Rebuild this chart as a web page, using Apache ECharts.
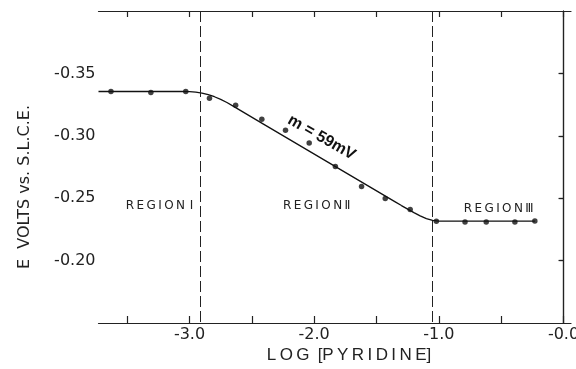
<!DOCTYPE html>
<html>
<head>
<meta charset="utf-8">
<script src="https://cdn.jsdelivr.net/npm/echarts@6/dist/echarts.min.js"></script>
<style>
  html, body { margin: 0; padding: 0; background: #fff; }
  #chart { width: 576px; height: 369px; }
</style>
</head>
<body>
<div id="chart"></div>
<script>
// measured points
const logPyr = [-3.63, -3.31, -3.03, -2.84, -2.63, -2.42, -2.23, -2.04, -1.83, -1.62, -1.43, -1.23, -1.02, -0.79, -0.62, -0.39, -0.23]
const volts = [-0.3354, -0.3346, -0.3354, -0.3300, -0.3244, -0.3132, -0.3044, -0.2942, -0.2754, -0.2594, -0.2498, -0.2410, -0.2316, -0.2310, -0.2310, -0.2310, -0.2318]

// drawn curve
const fitX = [-3.73, -3.05, -3.0, -2.95, -2.9, -2.85, -2.8, -2.75, -2.7, -2.65, -2.4, -1.35, -1.3, -1.25, -1.2, -1.15, -1.1, -1.05, -1.0, -0.23]
const fitY = [-0.3355, -0.3355, -0.3354, -0.3350, -0.3342, -0.3330, -0.3313, -0.3292, -0.3267, -0.3238, -0.3090, -0.2471, -0.2441, -0.2412, -0.2384, -0.2358, -0.2337, -0.2323, -0.2317, -0.2316]

// region boundaries
const boundaries = [-2.91, -1.05]

// ticks
const xTicks = [-3.5, -3.0, -2.5, -2.0, -1.5, -1.0, -0.5, 0]
const xLabels = [-3.0, -2.0, -1.0, 0]
const yTicks = [-0.35, -0.30, -0.25, -0.20]

// annotations [text, x, y]
const regionNotes = [
  ['R\u2009E\u2009G\u2009I\u2009O\u2009N\u2009\u2009I', -3.24, -0.2438],
  ['R\u2009E\u2009G\u2009I\u2009O\u2009N\u2009\u2161', -1.98, -0.2438],
  ['R\u2009E\u2009G\u2009I\u2009O\u2009N\u2009\u2162', -0.52, -0.2418]
]
const slopeNote = ['m = 59mV', -1.94, -0.2985]

const font = 'Liberation Sans'
const wide = 'DejaVu Sans'
const chart = echarts.init(document.getElementById('chart'))

const xBase = {
  type: 'value',
  min: -3.73,
  max: 0.06,
  splitLine: { show: false },
  axisLine: { show: true, lineStyle: { color: '#222', width: 1.2 } }
}
const yBase = {
  type: 'value',
  inverse: true,
  min: -0.40,
  max: -0.15,
  splitLine: { show: false },
  axisLine: { show: true, lineStyle: { color: '#222', width: 1.2 } }
}

chart.setOption({
  backgroundColor: '#fff',
  animation: false,
  grid: { left: 98.5, right: 5, top: 11, bottom: 46, outerBoundsMode: 'none' },
  xAxis: [
    Object.assign({}, xBase, {
      position: 'bottom',
      axisTick: {
        inside: true, length: 7, customValues: xTicks,
        lineStyle: { color: '#222', width: 1.2 }
      },
      axisLabel: {
        customValues: xLabels,
        color: '#222', fontFamily: wide, fontSize: 16, margin: 4,
        formatter: v => (v === 0 ? '-0.0' : v.toFixed(1))
      }
    }),
    Object.assign({}, xBase, {
      position: 'top',
      axisTick: {
        inside: true, length: 6, customValues: xTicks,
        lineStyle: { color: '#222', width: 1.2 }
      },
      axisLabel: { show: false }
    })
  ],
  yAxis: [
    Object.assign({}, yBase, {
      position: 'left',
      axisTick: {
        inside: false, length: 4, customValues: yTicks,
        lineStyle: { color: '#222', width: 1.2 }
      },
      axisLabel: {
        customValues: yTicks,
        color: '#222', fontFamily: wide, fontSize: 16, margin: 3,
        formatter: v => v.toFixed(2)
      }
    }),
    Object.assign({}, yBase, {
      position: 'right',
      axisTick: {
        inside: true, length: 5, customValues: yTicks,
        lineStyle: { color: '#222', width: 1.2 }
      },
      axisLabel: { show: false }
    })
  ],
  series: [
    {
      type: 'line',
      data: fitX.map((x, i) => [x, fitY[i]]),
      symbol: 'none',
      smooth: false,
      lineStyle: { color: '#111', width: 1.3 },
      markLine: {
        silent: true,
        symbol: 'none',
        label: { show: false },
        lineStyle: { color: '#222', width: 1, type: [11, 4] },
        data: boundaries.map(b => ({ xAxis: b }))
      },
      z: 2
    },
    {
      type: 'scatter',
      data: logPyr.map((x, i) => [x, volts[i]]),
      symbol: 'circle',
      symbolSize: 5.5,
      itemStyle: { color: '#111' },
      z: 3
    }
  ]
})

// annotations placed through the axes
const px = (x, y) => chart.convertToPixel({ xAxisIndex: 0, yAxisIndex: 0 }, [x, y])
const graphics = regionNotes.map(r => {
  const p = px(r[1], r[2])
  return {
    type: 'text', x: p[0], y: p[1],
    style: {
      text: r[0], fill: '#222', font: '12px ' + wide,
      textAlign: 'center', textVerticalAlign: 'middle'
    }
  }
})
const sp = px(slopeNote[1], slopeNote[2])
graphics.push({
  type: 'text', x: sp[0], y: sp[1], rotation: -0.52,
  style: {
    text: slopeNote[0], fill: '#111', font: 'bold 16px ' + font,
    textAlign: 'center', textVerticalAlign: 'middle'
  }
})
// axis titles
graphics.push({
  type: 'text', x: 25, y: 187, rotation: Math.PI / 2,
  style: {
    text: 'E  VOLTS vs. S.L.C.E.', fill: '#222', font: '16px ' + wide,
    textAlign: 'center', textVerticalAlign: 'middle'
  }
})
graphics.push({
  type: 'text', x: 349, y: 355,
  style: {
    text: 'L\u2009O\u2009G\u2009 [P\u2009Y\u2009R\u2009I\u2009D\u2009I\u2009N\u2009E]', fill: '#222', font: '17px ' + font,
    textAlign: 'center', textVerticalAlign: 'middle'
  }
})
chart.setOption({ graphic: graphics })
</script>
</body>
</html>
